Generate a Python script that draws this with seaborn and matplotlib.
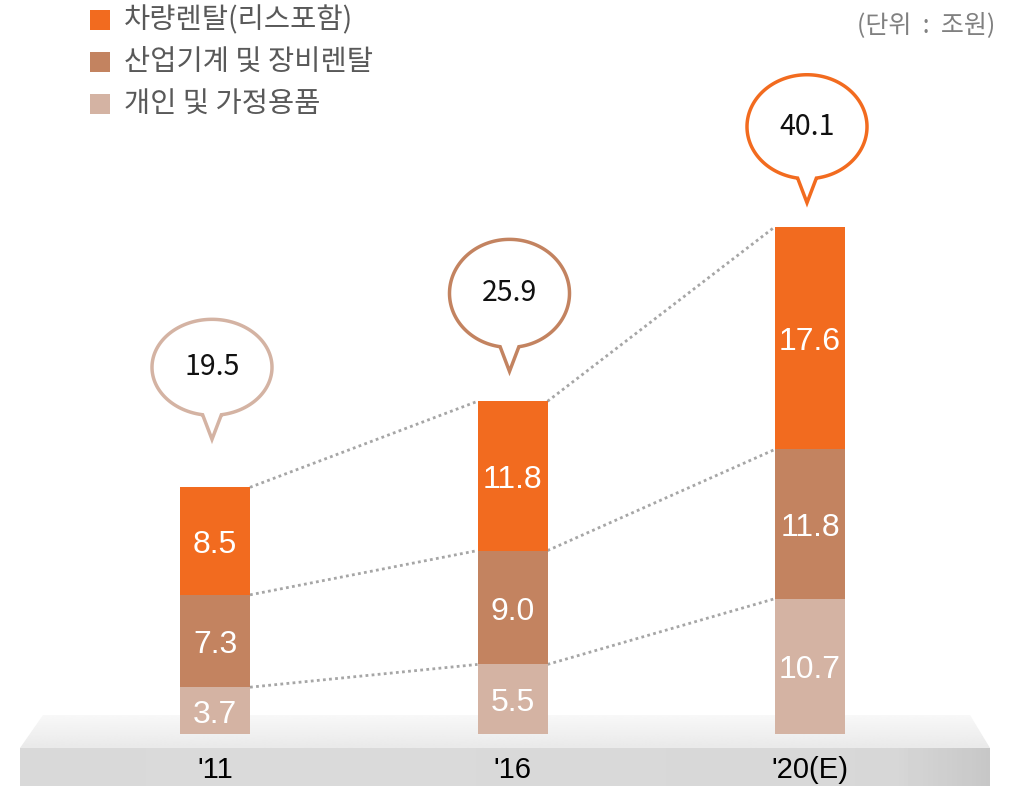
import numpy as np
import pandas as pd
import seaborn as sns
import matplotlib.pyplot as plt
from matplotlib.patches import Polygon

# data
years = ["'11", "'16", "'20(E)"]
personal = [3.7, 5.5, 10.7]      # 개인 및 가정용품
industrial = [7.3, 9.0, 11.8]    # 산업기계 및 장비렌탈
vehicle = [8.5, 11.8, 17.6]      # 차량렌탈(리스포함)
totals = [19.5, 25.9, 40.1]
series_names = ["차량렌탈(리스포함)", "산업기계 및 장비렌탈", "개인 및 가정용품"]
unit_text = "(단위 : 조원)"

c_vehicle = "#f26b1f"
c_industrial = "#c38360"
c_personal = "#d4b3a3"
bubble_colors = [c_personal, c_industrial, c_vehicle]

sns.set_theme(style="white")
plt.rcParams['font.family'] = ['Noto Sans CJK KR', 'DejaVu Sans']

W, H = 1013, 786
X0, XS = 215, 297.5   # pixel of category 0, pixels per category
Y0, YS = 734, 12.65   # pixel of value 0, pixels per unit

def px2d(px, py):
    return (px - X0) / XS, (Y0 - py) / YS

fig = plt.figure(figsize=(W / 100, H / 100), dpi=100)
ax = fig.add_axes([0, 0, 1, 1])

df = pd.DataFrame({"year": years, "personal": personal,
                   "industrial": industrial, "vehicle": vehicle})
df["lvl1"] = df["personal"]
df["lvl2"] = df["personal"] + df["industrial"]
df["lvl3"] = df["lvl2"] + df["vehicle"]

# platform
top_face = [px2d(43, 715), px2d(970, 715), px2d(990, 748), px2d(20, 748)]
front_face = [px2d(20, 748), px2d(990, 748), px2d(990, 790), px2d(20, 790)]
tp = Polygon(top_face, closed=True, fc="none", ec="none")
fp = Polygon(front_face, closed=True, fc="none", ec="none")
ax.add_patch(tp)
ax.add_patch(fp)
gv = np.linspace(0, 1, 64).reshape(-1, 1)
top_grad = np.repeat(0.975 - 0.06 * gv, 2, axis=1)
im1 = ax.imshow(top_grad, cmap="gray", vmin=0, vmax=1, aspect="auto",
                extent=[px2d(20, 0)[0], px2d(990, 0)[0], px2d(0, 748)[1], px2d(0, 715)[1]],
                zorder=0.5)
im1.set_clip_path(tp)
gh = np.linspace(0, 1, 200)
front_grad = 0.855 - 0.02 * np.abs(gh - 0.3) - 0.06 * np.clip((gh - 0.9) / 0.1, 0, 1)
front_grad = np.repeat(front_grad.reshape(1, -1), 2, axis=0)
im2 = ax.imshow(front_grad, cmap="gray", vmin=0, vmax=1, aspect="auto",
                extent=[px2d(20, 0)[0], px2d(990, 0)[0], px2d(0, 790)[1], px2d(0, 748)[1]],
                zorder=0.5)
im2.set_clip_path(fp)

# stacked bars, tallest first
for col, c in [("lvl3", c_vehicle), ("lvl2", c_industrial), ("lvl1", c_personal)]:
    sns.barplot(data=df, x="year", y=col, color=c, saturation=1, width=70 / XS,
                linewidth=0, ax=ax, zorder=3)

# dotted connectors
bw = 70 / XS / 2
for col in ["lvl1", "lvl2", "lvl3"]:
    v = df[col].values
    for i in range(len(v) - 1):
        ax.plot([i + bw, i + 1 - bw], [v[i], v[i + 1]], ls=(0, (1, 1.2)),
                color="#a6a6a6", lw=2, zorder=2)

# segment labels
for i in range(len(years)):
    bottoms = [0, df["lvl1"][i], df["lvl2"][i]]
    for b, val in zip(bottoms, [personal[i], industrial[i], vehicle[i]]):
        ax.text(i, b + val / 2 - 4 / YS, f"{val:.1f}", ha="center", va="center",
                color="white", fontsize=23, family="Liberation Sans", zorder=4)

# bubbles
def bubble(xc, yc, w, h, tail, color, label):
    t = np.linspace(np.deg2rad(-90 + 9), np.deg2rad(270 - 9), 300)
    xs = xc + w / 2 * np.cos(t)
    ys = yc + h / 2 * np.sin(t)
    pts = np.column_stack([xs, ys])
    pts = np.vstack([pts, [xc, yc - h / 2 - tail]])
    ax.add_patch(Polygon(pts, closed=True, fc="white", ec=color, lw=2.5, zorder=5))
    ax.text(xc, yc, label, ha="center", va="center", fontsize=20.5,
            color="#111111", zorder=6)

lifts = [120, 113, 100]
heights = [96, 108, 104]
for i, tot in enumerate(totals):
    yc = tot + lifts[i] / YS
    bubble(i - 3 / XS, yc, 120 / XS, heights[i] / YS, 24 / YS, bubble_colors[i], f"{tot:.1f}")

# x labels on platform front
for i, lab in enumerate(years):
    ax.text(i, px2d(0, 770)[1], lab, ha="center", va="center", fontsize=21,
            family="Liberation Sans", color="black", zorder=4)

# legend
for k, (name, c) in enumerate(zip(series_names, [c_vehicle, c_industrial, c_personal])):
    yy = 20 + 42 * k
    fig.patches.append(plt.Rectangle((90 / W, 1 - (yy + 10) / H), 20 / W, 20 / H,
                                     transform=fig.transFigure, fc=c, ec="none"))
    fig.text(124 / W, 1 - yy / H, name, ha="left", va="center", fontsize=20.5,
             color="#595959")
fig.text(995 / W, 1 - 25 / H, unit_text.replace(" ", "  "), ha="right", va="center",
         fontsize=18, color="#808080")

ax.set_xlim(px2d(0, 0)[0], px2d(W, 0)[0])
ax.set_ylim(px2d(0, H)[1], px2d(0, 0)[1])
ax.axis("off")
fig.savefig("out.png", dpi=100)
